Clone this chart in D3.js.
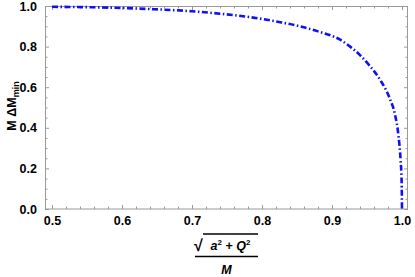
<!DOCTYPE html>
<html>
<head>
<meta charset="utf-8">
<script src="https://cdn.jsdelivr.net/npm/d3@7"></script>
<style>
  body { margin: 0; background: #fff; }
  svg text { font-family: "Liberation Sans", Arial, sans-serif; }
</style>
</head>
<body>
<div id="chart"></div>
<script>
// curve points
const ratio = [0.5, 0.57, 0.64, 0.70, 0.74, 0.783, 0.826, 0.854, 0.88, 0.911, 0.926, 0.94, 0.954, 0.969, 0.983, 0.99, 0.995, 0.998, 0.9995, 1.0];
const deltaM = [0.996, 0.993, 0.985, 0.974, 0.962, 0.945, 0.92, 0.90, 0.875, 0.835, 0.80, 0.758, 0.705, 0.635, 0.54, 0.465, 0.36, 0.24, 0.13, 0.0];
const xTicks = [0.5, 0.6, 0.7, 0.8, 0.9, 1.0];
const yTicks = [0.0, 0.2, 0.4, 0.6, 0.8, 1.0];

const width = 415, height = 277;
const frame = {left: 45, right: 408, top: 6, bottom: 209};
const frameColor = "#9a9a9a";

const svg = d3.select("#chart").append("svg")
    .attr("width", width)
    .attr("height", height);

const x = d3.scaleLinear().domain([0.49, 1.00857]).range([frame.left, frame.right]);
const y = d3.scaleLinear().domain([0, 1]).range([frame.bottom, frame.top]);

// minor ticks every 0.02 on x, 0.05 on y
const xMinor = d3.range(50, 101, 2).map(d => d / 100).filter(d => Math.round(d * 100) % 10 !== 0);
const yMinor = d3.range(0, 101, 5).map(d => d / 100).filter(d => Math.round(d * 100) % 20 !== 0);

function styleAxis(g) {
    g.attr("font-family", null);
    g.select(".domain").remove();
    g.selectAll(".tick line").attr("stroke", frameColor);
    g.selectAll(".tick text")
        .attr("fill", "#000")
        .attr("font-weight", "bold")
        .attr("font-size", "12.5px");
}

// bottom axis with labels
svg.append("g").attr("transform", `translate(0,${frame.bottom})`)
    .call(d3.axisBottom(x).tickValues(xTicks).tickFormat(d3.format(".1f")).tickSizeInner(-4).tickSizeOuter(0).tickPadding(7))
    .call(styleAxis);
svg.append("g").attr("transform", `translate(0,${frame.bottom})`)
    .call(d3.axisBottom(x).tickValues(xMinor).tickFormat("").tickSizeInner(-2.5).tickSizeOuter(0))
    .call(styleAxis);
// top axis, ticks only
svg.append("g").attr("transform", `translate(0,${frame.top})`)
    .call(d3.axisTop(x).tickValues(xTicks).tickFormat("").tickSizeInner(-4).tickSizeOuter(0))
    .call(styleAxis);
svg.append("g").attr("transform", `translate(0,${frame.top})`)
    .call(d3.axisTop(x).tickValues(xMinor).tickFormat("").tickSizeInner(-2.5).tickSizeOuter(0))
    .call(styleAxis);

// left axis with labels
svg.append("g").attr("transform", `translate(${frame.left},0)`)
    .call(d3.axisLeft(y).tickValues(yTicks).tickFormat(d3.format(".1f")).tickSizeInner(-4).tickSizeOuter(0).tickPadding(8))
    .call(styleAxis);
svg.append("g").attr("transform", `translate(${frame.left},0)`)
    .call(d3.axisLeft(y).tickValues(yMinor).tickFormat("").tickSizeInner(-2.5).tickSizeOuter(0))
    .call(styleAxis);
// right axis, ticks only
svg.append("g").attr("transform", `translate(${frame.right},0)`)
    .call(d3.axisRight(y).tickValues(yTicks).tickFormat("").tickSizeInner(-4).tickSizeOuter(0))
    .call(styleAxis);
svg.append("g").attr("transform", `translate(${frame.right},0)`)
    .call(d3.axisRight(y).tickValues(yMinor).tickFormat("").tickSizeInner(-2.5).tickSizeOuter(0))
    .call(styleAxis);

// frame
svg.append("rect")
    .attr("x", frame.left + 0.5).attr("y", frame.top + 0.5)
    .attr("width", frame.right - frame.left - 1).attr("height", frame.bottom - frame.top - 0.5)
    .attr("fill", "none")
    .attr("stroke", frameColor)
    .attr("stroke-width", 1);

// the curve
const line = d3.line()
    .x((d, i) => x(ratio[i]))
    .y(d => y(d))
    .curve(d3.curveMonotoneX);

svg.append("path")
    .datum(deltaM)
    .attr("d", line)
    .attr("fill", "none")
    .attr("stroke", "#1010f0")
    .attr("stroke-width", 2.6)
    .attr("stroke-dasharray", "6,2.5,1.5,2.5");

// y label: M ΔM_min
const yl = svg.append("text")
    .attr("transform", "translate(16,106) rotate(-90)")
    .attr("text-anchor", "middle")
    .attr("font-weight", "bold")
    .attr("font-size", "12.5px");
yl.append("tspan").text("M ΔM");
yl.append("tspan").attr("font-size", "9px").attr("dy", 3).text("min");

// x label: sqrt(a^2 + Q^2) / M
const cx = (frame.left + frame.right) / 2;
const num = svg.append("text")
    .attr("x", cx + 4).attr("y", 250)
    .attr("text-anchor", "middle")
    .attr("font-weight", "bold")
    .attr("font-style", "italic")
    .attr("font-size", "12.5px");
num.append("tspan").text("a");
num.append("tspan").attr("font-size", "8px").attr("dy", -5).attr("font-style", "normal").text("2");
num.append("tspan").attr("dy", 5).attr("font-style", "normal").text(" + ");
num.append("tspan").text("Q");
num.append("tspan").attr("font-size", "8px").attr("dy", -5).attr("font-style", "normal").text("2");

svg.append("text")
    .attr("x", 194).attr("y", 251)
    .attr("font-weight", "bold")
    .attr("font-size", "16px")
    .text("√");
svg.append("line")
    .attr("x1", 203).attr("x2", 258)
    .attr("y1", 234).attr("y2", 234)
    .attr("stroke", "#000").attr("stroke-width", 1.3);
svg.append("line")
    .attr("x1", 195).attr("x2", 258)
    .attr("y1", 256.5).attr("y2", 256.5)
    .attr("stroke", "#000").attr("stroke-width", 1.3);
svg.append("text")
    .attr("x", cx).attr("y", 274)
    .attr("text-anchor", "middle")
    .attr("font-weight", "bold")
    .attr("font-style", "italic")
    .attr("font-size", "12.5px")
    .text("M");
</script>
</body>
</html>
